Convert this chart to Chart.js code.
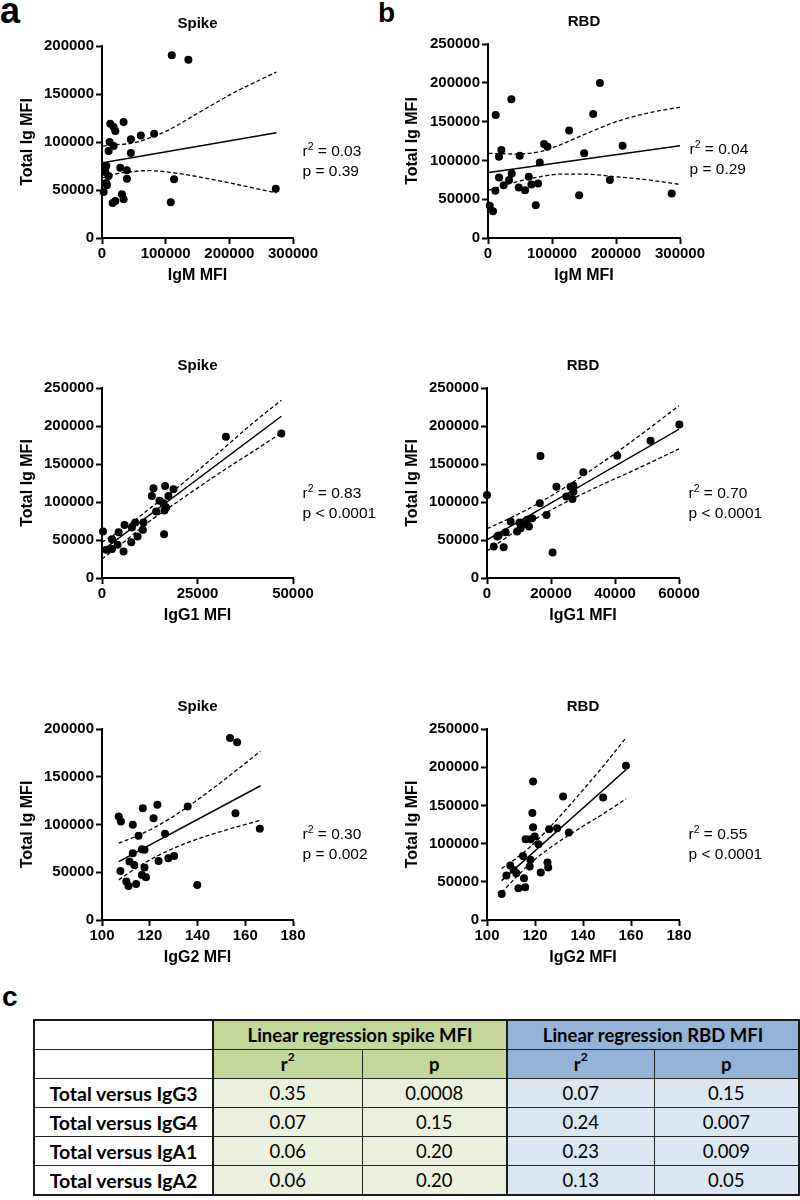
<!DOCTYPE html>
<html>
<head>
<meta charset="utf-8">
<script src="https://cdn.jsdelivr.net/npm/chart.js@4.4.1/dist/chart.umd.min.js"></script>
<style>
  body { margin: 0; background: #fff; }
  #fig { position: relative; width: 800px; height: 1200px; overflow: hidden; font-family: "Liberation Sans", Arial, sans-serif; }
  .panel { position: absolute; }
  .lab { position: absolute; font-weight: bold; line-height: 1; color: #000; }
  #tbl { position: absolute; left: 33px; top: 1019px; width: 765px; border-collapse: collapse; table-layout: fixed;
         font-family: Lato, "Open Sans", sans-serif; color: #000; border: 2px solid #1a1a1a; }
  #tbl td, #tbl th { border: 1.5px solid #222; text-align: center; vertical-align: middle; padding: 0; height: 28px; }
  #tbl th { font-weight: bold; font-size: 18.5px; }
  #tbl td { font-size: 18.5px; }
  #tbl td.rl { font-weight: bold; font-size: 19.5px; background: #fff; }
  #tbl .gh { background: #c4d79b; }
  #tbl .bh { background: #95b3d7; }
  #tbl .gd { background: #ebf1de; }
  #tbl .bd { background: #dce6f1; }
  #tbl .sep { border-right: 2.5px solid #1a1a1a; }
  #tbl sup { font-size: 12px; line-height: 0; position: relative; top: -3px; }
</style>
</head>
<body>
<div id="fig">
  <div class="lab" style="left:0px;top:-7px;font-size:36px;">a</div>
  <div class="lab" style="left:378px;top:-1px;font-size:28px;">b</div>
  <div class="lab" style="left:2px;top:983px;font-size:28px;">c</div>
  <canvas id="pA1" class="panel" width="400" height="300" style="left:0;top:0;"></canvas>
  <canvas id="pB1" class="panel" width="400" height="300" style="left:400px;top:0;"></canvas>
  <canvas id="pA2" class="panel" width="400" height="340" style="left:0;top:300px;"></canvas>
  <canvas id="pB2" class="panel" width="400" height="340" style="left:400px;top:300px;"></canvas>
  <canvas id="pA3" class="panel" width="400" height="340" style="left:0;top:640px;"></canvas>
  <canvas id="pB3" class="panel" width="400" height="340" style="left:400px;top:640px;"></canvas>
  <table id="tbl">
    <colgroup><col style="width:179px"><col style="width:149px"><col style="width:145px"><col style="width:147px"><col style="width:145px"></colgroup>
    <tbody id="tbody"></tbody>
  </table>
</div>
<script>
// ---- panel a, top: Spike vs IgM ----
const spikeIgmX = [109600, 135700, 13000, 18300, 20900, 33900, 12000, 18300, 10400, 45400, 61000, 81900, 45400, 6800, 5200, 10400, 28700, 39100, 39100, 6800, 7800, 2600, 31300, 33900, 20900, 16700, 108000, 113200, 272900];
const spikeIgmY = [190300, 185800, 119100, 115600, 111500, 120800, 100000, 95800, 90600, 102800, 106900, 108700, 88500, 75000, 68800, 64600, 73300, 70500, 61800, 57300, 54900, 47900, 45500, 40300, 38500, 36500, 37200, 61100, 51400];
const spikeIgmFitX = [1000, 273900];
const spikeIgmFitY = [78500, 109700];
const spikeIgmBandX = [1000, 23500, 49600, 75700, 101700, 153900, 206100, 273900];
const spikeIgmUpper = [95800, 97200, 99000, 104500, 111500, 131300, 151000, 172900];
const spikeIgmLower = [62800, 67000, 69400, 70100, 68800, 63500, 56600, 46900];

// ---- panel b, top: RBD vs IgM ----
const rbdIgmX = [174800, 36500, 12000, 164300, 126800, 87700, 92900, 210300, 150300, 20900, 17200, 49600, 80900, 17200, 37000, 32900, 24500, 11500, 48000, 57900, 63700, 67800, 78300, 74600, 142400, 190400, 287000, 2600, 7800];
const rbdIgmY = [199600, 178900, 158600, 159900, 138400, 121100, 117700, 119000, 109100, 113400, 104700, 106000, 97400, 78000, 83200, 74600, 68100, 60800, 65100, 61600, 78900, 69000, 70300, 42200, 55200, 74600, 57300, 41400, 34500];
const rbdIgmFitX = [1000, 300000];
const rbdIgmFitY = [84500, 119000];
const rbdIgmBandX = [1000, 44300, 80900, 112200, 148700, 200900, 253000, 300000];
const rbdIgmUpper = [109100, 108200, 111200, 119800, 132800, 150000, 161600, 168500];
const rbdIgmLower = [61600, 72400, 78900, 82300, 82300, 78900, 74600, 69000];

// ---- panel a, middle: Spike vs IgG1 ----
const spikeIgg1X = [46960, 32430, 13480, 16520, 18700, 13040, 15040, 16090, 17390, 16780, 16350, 14170, 16260, 260, 5910, 7830, 8700, 10870, 10700, 4350, 2610, 4090, 2610, 1130, 5650, 7650, 9300];
const spikeIgg1Y = [190100, 185800, 118000, 121100, 116700, 108000, 101800, 98300, 108000, 92700, 88700, 87400, 57700, 61200, 69900, 66400, 73000, 73000, 63400, 60300, 51100, 43700, 38000, 37200, 35000, 47200, 54600];
const spikeIgg1FitX = [0, 46960];
const spikeIgg1FitY = [36000, 212800];
const spikeIgg1BandX = [0, 6000, 12000, 20000, 30000, 40000, 46960];
const spikeIgg1Upper = [47000, 66000, 89500, 120000, 162500, 206000, 234000];
const spikeIgg1Lower = [25000, 48500, 73000, 101000, 135500, 168000, 191000];

// ---- panel b, middle: RBD vs IgG1 ----
const rbdIgg1X = [60100, 51100, 40700, 16700, 30100, 21700, 0, 16500, 26100, 27000, 24800, 26700, 27000, 18600, 7400, 10200, 12100, 12600, 14100, 10500, 13100, 9400, 5800, 3650, 3200, 2100, 5200, 20500];
const rbdIgg1Y = [201900, 180500, 160800, 160400, 139000, 120200, 109300, 98300, 120200, 121500, 107100, 104000, 113600, 83000, 74300, 73000, 71200, 76500, 78700, 65600, 67700, 61200, 60300, 55900, 54600, 41500, 40600, 33700];
const rbdIgg1FitX = [0, 60100];
const rbdIgg1FitY = [50300, 196000];
const rbdIgg1BandX = [0, 10000, 17000, 25000, 35000, 45000, 60100];
const rbdIgg1Upper = [64800, 84500, 100500, 121000, 149000, 179000, 227000];
const rbdIgg1Lower = [35500, 64500, 82500, 100500, 121000, 140000, 170000];

// ---- panel a, bottom: Spike vs IgG2 ----
const spikeIgg2X = [153.6, 156.6, 117.1, 123.2, 135.9, 121.6, 107.0, 107.9, 112.9, 155.9, 126.4, 115.3, 166.1, 116.7, 117.8, 112.9, 111.5, 113.5, 117.8, 123.7, 127.8, 130.2, 107.7, 116.7, 118.4, 110.2, 111.1, 114.3, 139.9];
const spikeIgg2Y = [190600, 186000, 117100, 120600, 118900, 106600, 108400, 103100, 99700, 111900, 90200, 88100, 95500, 74100, 73600, 69900, 61200, 57700, 54900, 61900, 64700, 67100, 51400, 47200, 44800, 40200, 35700, 37800, 36700];
const spikeIgg2FitX = [107.0, 166.4];
const spikeIgg2FitY = [61200, 140600];
const spikeIgg2BandX = [107, 114, 121, 128, 136, 146, 156, 166.4];
const spikeIgg2Upper = [80400, 87300, 95600, 105600, 118700, 136900, 156200, 176800];
const spikeIgg2Lower = [42000, 53800, 64200, 72900, 81200, 89700, 97200, 104400];

// ---- panel b, bottom: RBD vs IgG2 ----
const rbdIgg2X = [157.9, 148.4, 131.7, 119.2, 118.9, 119.2, 119.9, 116.1, 118.2, 129.2, 125.9, 134.1, 121.4, 115.0, 118.1, 117.8, 125.2, 125.5, 122.4, 109.7, 111.1, 112.2, 108.1, 115.4, 113.1, 115.9, 106.1];
const rbdIgg2Y = [201900, 160400, 161700, 181400, 139900, 121500, 109300, 105800, 105800, 120200, 118900, 114500, 99200, 83900, 78700, 69900, 75200, 68600, 62100, 71200, 65600, 61200, 58100, 54600, 41500, 42800, 34100];
const rbdIgg2FitX = [106.1, 157.9];
const rbdIgg2FitY = [51600, 196700];
const rbdIgg2BandX = [106.1, 112, 118, 124, 132, 140, 148, 157.9];
const rbdIgg2Upper = [67400, 80500, 95900, 114100, 141500, 170300, 199700, 238500];
const rbdIgg2Lower = [35700, 55700, 73900, 89300, 106800, 122700, 138100, 158500];

// ---- table c ----
const rowLabels = ['Total versus IgG3', 'Total versus IgG4', 'Total versus IgA1', 'Total versus IgA2'];
const spikeR2 = ['0.35', '0.07', '0.06', '0.06'];
const spikeP = ['0.0008', '0.15', '0.20', '0.20'];
const rbdR2 = ['0.07', '0.24', '0.23', '0.13'];
const rbdP = ['0.15', '0.007', '0.009', '0.05'];

Chart.defaults.font.family = '"Liberation Sans", Arial, sans-serif';
Chart.defaults.color = '#000';

const pts = (xs, ys) => xs.map((v, i) => ({ x: v, y: ys[i] }));

// title above plot + r2/p text to the right
const panelText = {
  id: 'panelText',
  afterDraw(chart, args, o) {
    const { ctx, chartArea: a } = chart;
    ctx.save();
    ctx.fillStyle = '#000';
    ctx.textBaseline = 'middle';
    ctx.textAlign = 'center';
    ctx.font = 'bold 15px "Liberation Sans", Arial';
    ctx.fillText(o.title, (a.left + a.right) / 2, a.top - 22);
    ctx.textAlign = 'left';
    const x = a.right + 9.5, y = a.top + 106;
    ctx.font = '15.5px "Liberation Sans", Arial';
    ctx.fillText('r', x, y);
    let w = ctx.measureText('r').width;
    ctx.font = '10.5px "Liberation Sans", Arial';
    ctx.fillText('2', x + w, y - 5);
    w += ctx.measureText('2').width;
    ctx.font = '15.5px "Liberation Sans", Arial';
    ctx.fillText(' = ' + o.r2, x + w, y);
    ctx.fillText('p ' + o.p, x, y + 19.5);
    ctx.restore();
  }
};

function makePanel(id, d, L) {
  const tickFont = { size: 15, weight: 'bold' };
  const titleFont = { size: 16, weight: 'bold' };
  const grid = { drawOnChartArea: false, drawTicks: true, tickLength: 6, tickWidth: 2, tickColor: '#000' };
  const border = { display: true, color: '#000', width: 2 };
  const el = document.getElementById(id);
  return new Chart(el, {
    type: 'scatter',
    data: {
      datasets: [
        { data: pts(d.x, d.y), pointRadius: 4, backgroundColor: '#000', borderColor: '#000', borderWidth: 0, clip: false },
        { data: pts(d.fitX, d.fitY), showLine: true, borderColor: '#000', borderWidth: 1.5, pointRadius: 0 },
        { data: pts(d.bandX, d.upper), showLine: true, borderColor: '#000', borderWidth: 1.3, borderDash: [4, 2.5], pointRadius: 0, cubicInterpolationMode: 'monotone' },
        { data: pts(d.bandX, d.lower), showLine: true, borderColor: '#000', borderWidth: 1.3, borderDash: [4, 2.5], pointRadius: 0, cubicInterpolationMode: 'monotone' }
      ]
    },
    options: {
      responsive: false,
      animation: false,
      devicePixelRatio: 1,
      layout: { padding: { left: 0, top: L.top, right: L.right, bottom: L.bottom } },
      plugins: {
        legend: { display: false },
        tooltip: { enabled: false },
        panelText: { title: d.title, r2: d.r2, p: d.p }
      },
      scales: {
        x: {
          type: 'linear', min: d.xMin, max: d.xMax,
          ticks: { stepSize: d.xStep, font: tickFont, color: '#000', padding: 1, maxRotation: 0, autoSkip: false, callback: v => String(v) },
          grid: grid, border: border,
          title: { display: true, text: d.xTitle, font: titleFont, color: '#000', padding: 4 },
          afterFit: s => { s.height = 51; }
        },
        y: {
          type: 'linear', min: 0, max: d.yMax,
          ticks: { stepSize: 50000, font: tickFont, color: '#000', padding: 2, autoSkip: false, callback: v => String(v) },
          grid: grid, border: border,
          title: { display: true, text: 'Total Ig MFI', font: titleFont, color: '#000', padding: { top: L.ytPad, bottom: 4 } },
          afterFit: s => { s.width = L.yWidth; }
        }
      }
    },
    plugins: [panelText]
  });
}

makePanel('pA1', { x: spikeIgmX, y: spikeIgmY, fitX: spikeIgmFitX, fitY: spikeIgmFitY, bandX: spikeIgmBandX, upper: spikeIgmUpper, lower: spikeIgmLower,
  title: 'Spike', xTitle: 'IgM MFI', xMin: 0, xMax: 300000, xStep: 100000, yMax: 200000, r2: '0.03', p: '= 0.39' },
  { top: 46, bottom: 11, right: 107, yWidth: 102, ytPad: 17.5 });
makePanel('pB1', { x: rbdIgmX, y: rbdIgmY, fitX: rbdIgmFitX, fitY: rbdIgmFitY, bandX: rbdIgmBandX, upper: rbdIgmUpper, lower: rbdIgmLower,
  title: 'RBD', xTitle: 'IgM MFI', xMin: 0, xMax: 300000, xStep: 100000, yMax: 250000, r2: '0.04', p: '= 0.29' },
  { top: 44, bottom: 11, right: 120, yWidth: 88, ytPad: 3 });
makePanel('pA2', { x: spikeIgg1X, y: spikeIgg1Y, fitX: spikeIgg1FitX, fitY: spikeIgg1FitY, bandX: spikeIgg1BandX, upper: spikeIgg1Upper, lower: spikeIgg1Lower,
  title: 'Spike', xTitle: 'IgG1 MFI', xMin: 0, xMax: 50000, xStep: 25000, yMax: 250000, r2: '0.83', p: '< 0.0001' },
  { top: 88, bottom: 11, right: 107, yWidth: 102, ytPad: 17.5 });
makePanel('pB2', { x: rbdIgg1X, y: rbdIgg1Y, fitX: rbdIgg1FitX, fitY: rbdIgg1FitY, bandX: rbdIgg1BandX, upper: rbdIgg1Upper, lower: rbdIgg1Lower,
  title: 'RBD', xTitle: 'IgG1 MFI', xMin: 0, xMax: 60000, xStep: 20000, yMax: 250000, r2: '0.70', p: '< 0.0001' },
  { top: 88, bottom: 11, right: 121, yWidth: 87, ytPad: 3 });
makePanel('pA3', { x: spikeIgg2X, y: spikeIgg2Y, fitX: spikeIgg2FitX, fitY: spikeIgg2FitY, bandX: spikeIgg2BandX, upper: spikeIgg2Upper, lower: spikeIgg2Lower,
  title: 'Spike', xTitle: 'IgG2 MFI', xMin: 100, xMax: 180, xStep: 20, yMax: 200000, r2: '0.30', p: '= 0.002' },
  { top: 89, bottom: 9, right: 107, yWidth: 102, ytPad: 17.5 });
makePanel('pB3', { x: rbdIgg2X, y: rbdIgg2Y, fitX: rbdIgg2FitX, fitY: rbdIgg2FitY, bandX: rbdIgg2BandX, upper: rbdIgg2Upper, lower: rbdIgg2Lower,
  title: 'RBD', xTitle: 'IgG2 MFI', xMin: 100, xMax: 180, xStep: 20, yMax: 250000, r2: '0.55', p: '< 0.0001' },
  { top: 89, bottom: 9, right: 121, yWidth: 87, ytPad: 3 });

// table
const tb = document.getElementById('tbody');
let html = '<tr><td class="rl sep"></td><th colspan="2" class="gh sep">Linear regression spike MFI</th><th colspan="2" class="bh">Linear regression RBD MFI</th></tr>';
html += '<tr><td class="rl sep"></td><th class="gh">r<sup>2</sup></th><th class="gh sep">p</th><th class="bh">r<sup>2</sup></th><th class="bh">p</th></tr>';
rowLabels.forEach((lab, i) => {
  html += '<tr><td class="rl sep">' + lab + '</td><td class="gd">' + spikeR2[i] + '</td><td class="gd sep">' + spikeP[i] +
    '</td><td class="bd">' + rbdR2[i] + '</td><td class="bd">' + rbdP[i] + '</td></tr>';
});
tb.innerHTML = html;
</script>
</body>
</html>
